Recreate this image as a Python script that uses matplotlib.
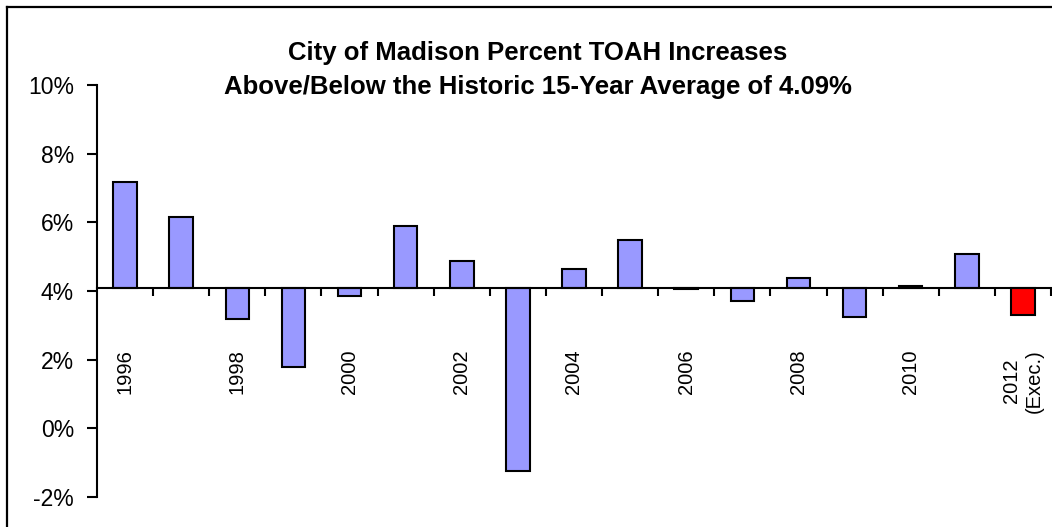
import numpy as np
import matplotlib
matplotlib.use("Agg")
import matplotlib.pyplot as plt
from matplotlib.lines import Line2D

plt.rcParams['font.family'] = ['Liberation Sans', 'DejaVu Sans']

# Data (percent TOAH increase per year)
years = ['1996', '1997', '1998', '1999', '2000', '2001', '2002', '2003', '2004',
         '2005', '2006', '2007', '2008', '2009', '2010', '2011', '2012\n(Exec.)']
increases = [7.18, 6.15, 3.19, 1.80, 3.85, 5.90, 4.88, -1.25, 4.63,
             5.48, 4.06, 3.71, 4.39, 3.24, 4.14, 5.08, 3.29]
average = 4.09
yticks = [-2, 0, 2, 4, 6, 8, 10]
ytick_labels = ['-2%', '0%', '2%', '4%', '6%', '8%', '10%']

W, H = 1052, 527
fig = plt.figure(figsize=(W / 100, H / 100), dpi=100)
ax = fig.add_axes([97 / W, 1 - 497 / H, (1051 - 97) / W, (497 - 85) / H])

x = np.arange(len(years))
heights = np.array(increases) - average
colors = ['#9999FF'] * (len(years) - 1) + ['#FF0000']
ax.bar(x, heights, bottom=average, width=0.42, color=colors,
       edgecolor='black', linewidth=1.5, zorder=2)

ax.set_xlim(-0.5, len(years) - 0.5)
ax.set_ylim(-2, 10)

# spines
ax.spines['top'].set_visible(False)
ax.spines['right'].set_visible(False)
ax.spines['left'].set_linewidth(1.5)
ax.spines['bottom'].set_linewidth(1.5)
ax.spines['bottom'].set_position(('data', average))
ax.spines['bottom'].set_zorder(3)

# y axis
ax.set_yticks(yticks)
ax.set_yticklabels(ytick_labels)
ax.tick_params(axis='y', direction='out', length=7.5, width=1.5, pad=9,
               labelsize=16.5)

# x axis: labels every other year, ticks between categories
ax.set_xticks(x)
ax.set_xticklabels([y if i % 2 == 0 else '' for i, y in enumerate(years)],
                   rotation=90)
ax.tick_params(axis='x', which='major', length=0, pad=44, labelsize=14.5)
ax.set_xticks(np.arange(0.5, len(years), 1.0), minor=True)
ax.tick_params(axis='x', which='minor', direction='out', length=6, width=1.5)

# title
fig.text(538 / W, 1 - 60 / H, 'City of Madison Percent TOAH Increases',
         ha='center', va='baseline', fontsize=18.5, fontweight='bold')
fig.text(538 / W, 1 - 94 / H,
         'Above/Below the Historic 15-Year Average of 4.09%',
         ha='center', va='baseline', fontsize=18.5, fontweight='bold')

# chart frame (left and top edges visible)
fig.add_artist(Line2D([7 / W, 7 / W], [0, 1 - 7 / H], color='black',
                      linewidth=1.6, transform=fig.transFigure))
fig.add_artist(Line2D([7 / W, 1], [1 - 7 / H, 1 - 7 / H], color='black',
                      linewidth=1.6, transform=fig.transFigure))

fig.savefig('out.png', dpi=100)
